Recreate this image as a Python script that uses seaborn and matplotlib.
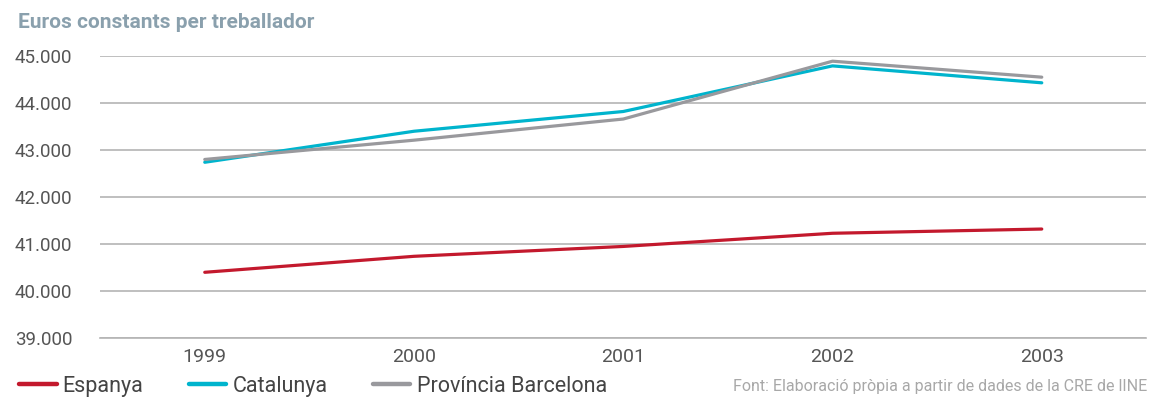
import numpy as np
import pandas as pd
import seaborn as sns
import matplotlib.pyplot as plt
from matplotlib.ticker import FuncFormatter, FixedLocator

years = [1999, 2000, 2001, 2002, 2003]
espanya = [40400, 40740, 40950, 41230, 41320]
catalunya = [42740, 43400, 43820, 44790, 44430]
provincia = [42800, 43210, 43660, 44890, 44550]
series_names = ['Espanya', 'Catalunya', 'Província Barcelona']
colors = ['#c3192d', '#00b4cd', '#99999d']

df = pd.DataFrame({
    'year': years * 3,
    'value': espanya + catalunya + provincia,
    'serie': [s for s in series_names for _ in years],
})

sns.set_style('white')
plt.rcParams['font.family'] = ['Roboto', 'DejaVu Sans']

fig = plt.figure(figsize=(11.51, 4.03), dpi=100)
ax = fig.add_axes([0.087, 0.161, 0.909, 0.700])

sns.lineplot(data=df, x='year', y='value', hue='serie', palette=colors,
             hue_order=series_names, linewidth=2.3, ax=ax, legend=False)

ax.set_xlim(1998.5, 2003.5)
ax.set_ylim(39000, 45000)
ax.set_yticks(np.arange(39000, 45001, 1000))
ax.yaxis.set_major_formatter(FuncFormatter(lambda v, p: f'{int(v):,}'.replace(',', '.')))
ax.set_xticks(years)
ax.set_xticklabels([str(y) for y in years])
ax.xaxis.set_minor_locator(FixedLocator(np.arange(1998.5, 2004, 1)))

ax.grid(axis='y', color='#b4b4b4', linewidth=1.2)
ax.set_axisbelow(True)
for s in ['top', 'right', 'left']:
    ax.spines[s].set_visible(False)
ax.spines['bottom'].set_color('#b4b4b4')
ax.spines['bottom'].set_linewidth(1.2)

ax.tick_params(axis='y', length=0, pad=20, labelsize=13.5, labelcolor='#555555')
ax.tick_params(axis='x', which='major', length=0, pad=7, labelsize=14, labelcolor='#555555')
ax.tick_params(axis='x', which='minor', length=7, width=1.2, color='#b4b4b4')
ax.set_xlabel('')
ax.set_ylabel('')

fig.text(0.0155, 0.945, 'Euros constants per treballador', fontsize=15,
         fontweight='bold', color='#8aa0ad', va='center', ha='left')

handles = [plt.Line2D([], [], color=c, linewidth=3.2) for c in colors]
fig.legend(handles, series_names, loc='center left', bbox_to_anchor=(0.0165, 0.042),
           ncol=3, frameon=False, fontsize=15.5, handlelength=1.75,
           handletextpad=0.28, columnspacing=2.1, borderpad=0, borderaxespad=0,
           labelcolor='#444444')

fig.text(0.997, 0.04, 'Font: Elaboració pròpia a partir de dades de la CRE de lINE',
         fontsize=11.5, color='#a8a8a8', ha='right', va='center')

fig.savefig('out.png', dpi=100)
